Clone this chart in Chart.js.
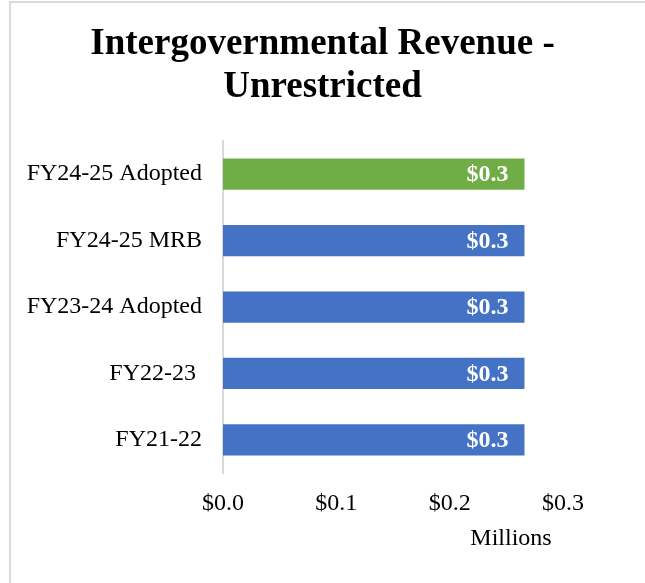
<!DOCTYPE html>
<html>
<head>
<meta charset="utf-8">
<script src="https://cdn.jsdelivr.net/npm/chart.js@4.4.1/dist/chart.umd.min.js"></script>
<style>
  html, body { margin: 0; padding: 0; background: #fff; overflow: hidden; }
  #frame {
    position: absolute; left: 9px; top: 1px; width: 700px; height: 700px;
    border-left: 2px solid #d9d9d9; border-top: 2px solid #d9d9d9;
  }
  #revChart { position: absolute; left: 0; top: 0; }
</style>
</head>
<body>
<div id="frame"></div>
<canvas id="revChart" width="645" height="583"></canvas>
<script>
// chart data
const categories = ["FY24-25 Adopted", "FY24-25 MRB", "FY23-24 Adopted", "FY22-23 ", "FY21-22"];
const revenueValues = [0.266, 0.266, 0.266, 0.266, 0.266]; // millions
const barColors = ["#70AD47", "#4472C4", "#4472C4", "#4472C4", "#4472C4"];
const xTicks = [0, 0.1, 0.2, 0.3];
const unitLabel = "Millions";

const FONT = "'Liberation Serif', 'Times New Roman', serif";

// "$0.3" inside the end of each bar + the units caption under the x axis
const extraText = {
  id: "extraText",
  afterDatasetsDraw(chart) {
    const { ctx, chartArea } = chart;
    const meta = chart.getDatasetMeta(0);
    ctx.save();
    ctx.font = "bold 24px " + FONT;
    ctx.fillStyle = "#ffffff";
    ctx.textAlign = "right";
    ctx.textBaseline = "middle";
    meta.data.forEach((bar, i) => {
      ctx.fillText("$" + revenueValues[i].toFixed(1), bar.x - 16, bar.y + 1);
    });

    // units caption
    ctx.font = "24px " + FONT;
    ctx.fillStyle = "#000";
    ctx.textAlign = "center";
    ctx.fillText(unitLabel, chartArea.right - 52, chartArea.bottom + 66);
    ctx.restore();
  },
};

const ctx = document.getElementById("revChart").getContext("2d");

new Chart(ctx, {
  type: "bar",
  data: {
    labels: categories,
    datasets: [
      {
        data: revenueValues,
        backgroundColor: barColors,
        categoryPercentage: 1,
        barPercentage: 0.47,
      },
    ],
  },
  options: {
    responsive: false,
    animation: false,
    indexAxis: "y",
    layout: { padding: { left: 0, right: 0, top: 0, bottom: 49 } },
    plugins: {
      legend: { display: false },
      tooltip: { enabled: false },
      title: {
        display: true,
        text: ["Intergovernmental Revenue -", "Unrestricted"],
        color: "#000",
        font: { family: FONT, size: 37, weight: "bold", lineHeight: 1.16 },
        padding: { top: 23, bottom: 32 },
      },
    },
    scales: {
      x: {
        min: 0,
        max: 0.3,
        afterBuildTicks(scale) {
          scale.ticks = xTicks.map((v) => ({ value: v }));
        },
        grid: { display: false, drawTicks: false },
        border: { display: false },
        ticks: {
          padding: 16,
          color: "#000",
          font: { family: FONT, size: 24 },
          callback: (value) => "$" + Number(value).toFixed(1),
        },
      },
      y: {
        afterFit(scale) {
          scale.width = 223;
        },
        grid: { display: false, drawTicks: false },
        border: { display: true, color: "#d9d9d9", width: 2 },
        ticks: {
          padding: 21,
          color: "#000",
          font: { family: FONT, size: 24 },
        },
      },
      // empty right-hand axis, only reserves the blank margin on the right
      yRight: {
        type: "category",
        position: "right",
        afterFit(scale) {
          scale.width = 82;
        },
        grid: { display: false, drawTicks: false },
        border: { display: false },
        ticks: { display: false },
      },
    },
  },
  plugins: [extraText],
});
</script>
</body>
</html>
